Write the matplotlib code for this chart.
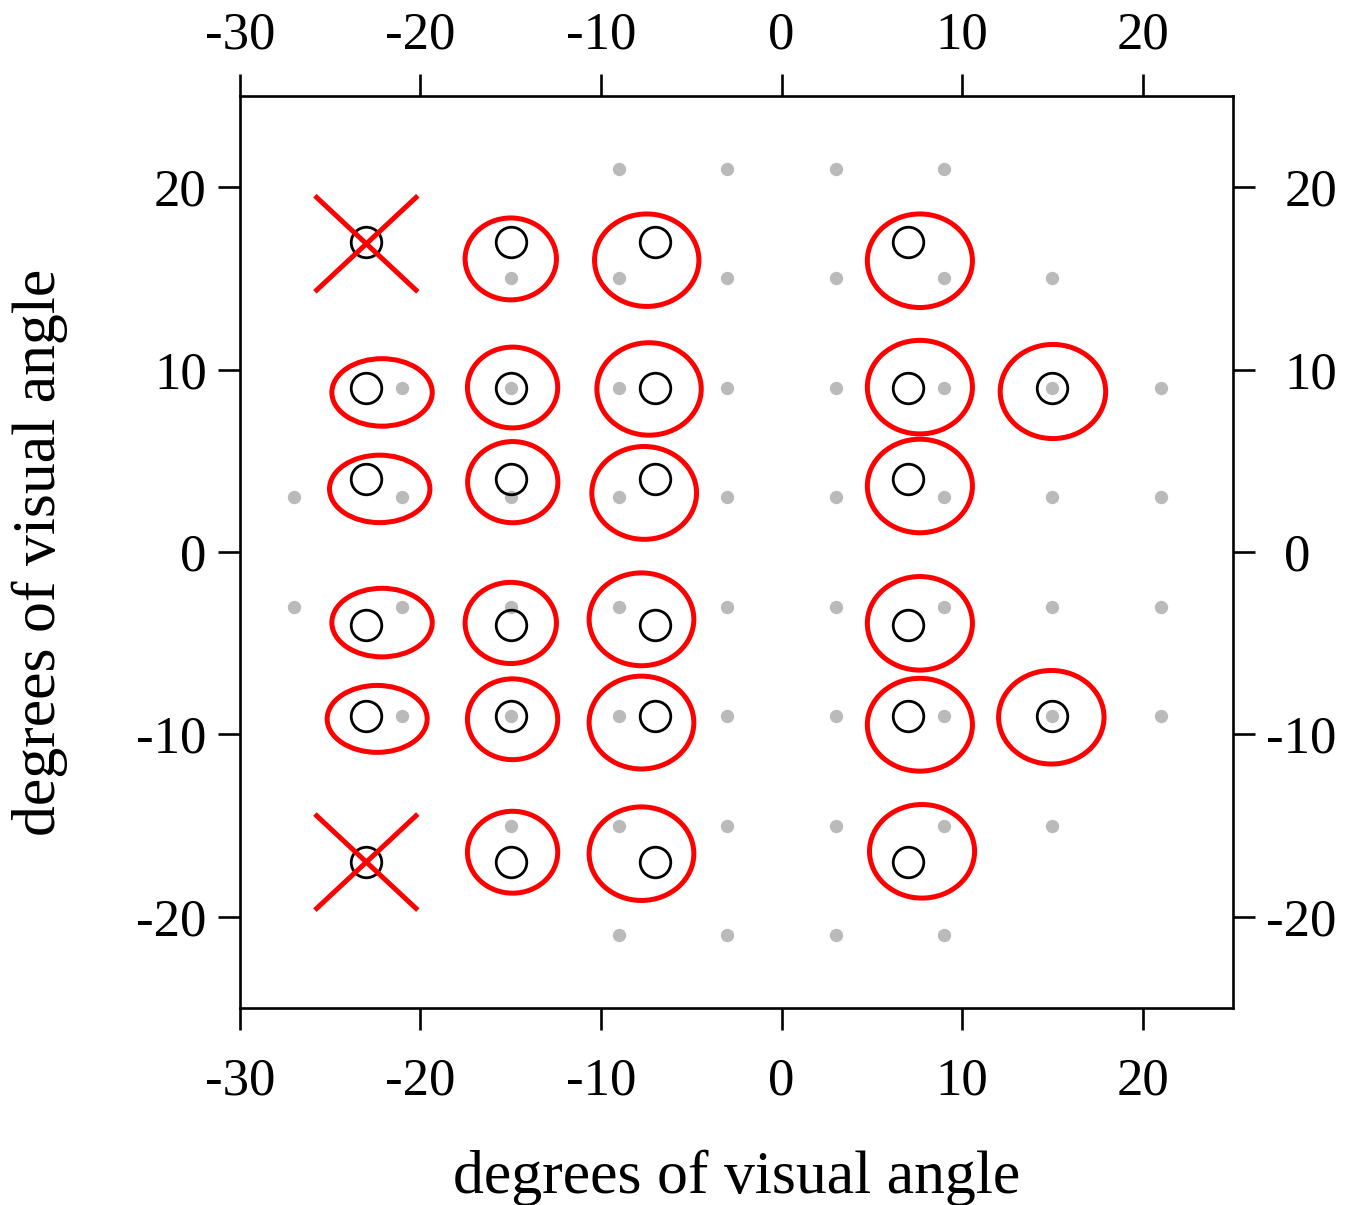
import matplotlib
matplotlib.use("Agg")
import matplotlib.pyplot as plt
import matplotlib.transforms as mtransforms
from matplotlib.patches import Ellipse

plt.rcParams['font.family'] = ['Liberation Serif', 'DejaVu Serif']
plt.rcParams['axes.unicode_minus'] = False

# grid of stimulus positions (gray dots)
dot_x = [-9, -3, 3, 9,
         -15, -9, -3, 3, 9, 15,
         -21, -15, -9, -3, 3, 9, 15, 21,
         -27, -21, -15, -9, -3, 3, 9, 15, 21,
         -27, -21, -15, -9, -3, 3, 9, 15, 21,
         -21, -15, -9, -3, 3, 9, 15, 21,
         -15, -9, -3, 3, 9, 15,
         -9, -3, 3, 9]
dot_y = [21] * 4 + [15] * 6 + [9] * 8 + [3] * 9 + [-3] * 9 + [-9] * 8 + [-15] * 6 + [-21] * 4

# target locations (black open circles)
target_x = [-23] * 6 + [-15] * 6 + [-7] * 6 + [7] * 6 + [15] * 2
target_y = [17, 9, 4, -4, -9, -17] * 4 + [9, -9]

# fitted fixation ellipses (red): centre, width, height
ell_x = [-22.13, -22.26, -22.13, -22.40,
         -15.0, -14.9, -14.89, -15.0, -14.9, -14.9,
         -7.47, -7.34, -7.61, -7.76, -7.76, -7.76,
         7.66, 7.66, 7.66, 7.66, 7.66, 7.78,
         15.03, 14.94]
ell_y = [8.75, 3.46, -3.87, -9.15,
         16.07, 9.02, 3.83, -3.89, -9.17, -16.46,
         16.0, 8.94, 3.24, -3.69, -9.35, -16.54,
         15.97, 9.04, 3.62, -3.91, -9.47, -16.41,
         8.8, -9.06]
ell_w = [5.56, 5.56, 5.56, 5.54,
         5.06, 5.0, 5.0, 5.06, 5.0, 5.0,
         5.78, 5.78, 5.8, 5.8, 5.8, 5.8,
         5.82, 5.82, 5.82, 5.82, 5.82, 5.82,
         5.84, 5.84]
ell_h = [3.70, 3.70, 3.76, 3.67,
         4.49, 4.43, 4.45, 4.45, 4.43, 4.49,
         5.07, 5.07, 5.09, 5.09, 5.09, 5.13,
         5.13, 5.13, 5.13, 5.13, 5.09, 5.13,
         5.16, 5.13]

# rejected targets (red crosses)
cross_x = [-23, -23]
cross_y = [16.9, -17.0]
cross_dx, cross_dy = 2.75, 2.54

xticks = [-30, -20, -10, 0, 10, 20]
yticks = [-20, -10, 0, 10, 20]

fig = plt.figure(figsize=(13.58, 12.05), dpi=100)
ax = fig.add_axes([0.1767, 0.1635, 0.7312, 0.7568])

ax.plot(dot_x, dot_y, 'o', color='#bababa', ms=9.6, mec='none', zorder=1)
ax.plot(target_x, target_y, 'o', mfc='none', mec='black', mew=2.0, ms=22, zorder=2)

for cx, cy, w, h in zip(ell_x, ell_y, ell_w, ell_h):
    ax.add_patch(Ellipse((cx, cy), w, h, fill=False, edgecolor='#ff0000', lw=3.6, zorder=3))

for cx, cy in zip(cross_x, cross_y):
    ax.plot([cx - cross_dx, cx + cross_dx], [cy + cross_dy, cy - cross_dy], color='#ff0000', lw=3.6, zorder=4)
    ax.plot([cx - cross_dx, cx + cross_dx], [cy - cross_dy, cy + cross_dy], color='#ff0000', lw=3.6, zorder=4)

ax.set_xlim(-30, 25)
ax.set_ylim(-25, 25)
ax.set_xticks(xticks)
ax.set_yticks(yticks)
ax.set_xticklabels([str(v) for v in xticks])
ax.set_yticklabels([str(v) for v in yticks])

for s in ax.spines.values():
    s.set_linewidth(1.9)

ax.tick_params(axis='both', which='major', direction='out', length=16, width=1.9,
               labelsize=38, top=True, right=True, labeltop=True, labelright=True)
ax.tick_params(axis='x', pad=10)
ax.tick_params(axis='y', pad=8)

# bottom labels sit further from the axis than the top ones
down = mtransforms.ScaledTranslation(0, -0.13, fig.dpi_scale_trans)
for t in ax.xaxis.get_major_ticks():
    t.label1.set_transform(t.label1.get_transform() + down)

# right-hand labels: hyphen hangs out so the digits line up
pos_shift = mtransforms.ScaledTranslation(0.18, 0, fig.dpi_scale_trans)
for t, v in zip(ax.yaxis.get_major_ticks(), yticks):
    if v >= 0:
        t.label2.set_transform(t.label2.get_transform() + pos_shift)

ax.set_xlabel('degrees of visual angle', fontsize=44.5)
ax.set_ylabel('degrees of visual angle', fontsize=44.5)
ax.xaxis.set_label_coords(0.5, -0.155)
ax.yaxis.set_label_coords(-0.173, 0.5)

fig.savefig('out.png', dpi=100, facecolor='white')
